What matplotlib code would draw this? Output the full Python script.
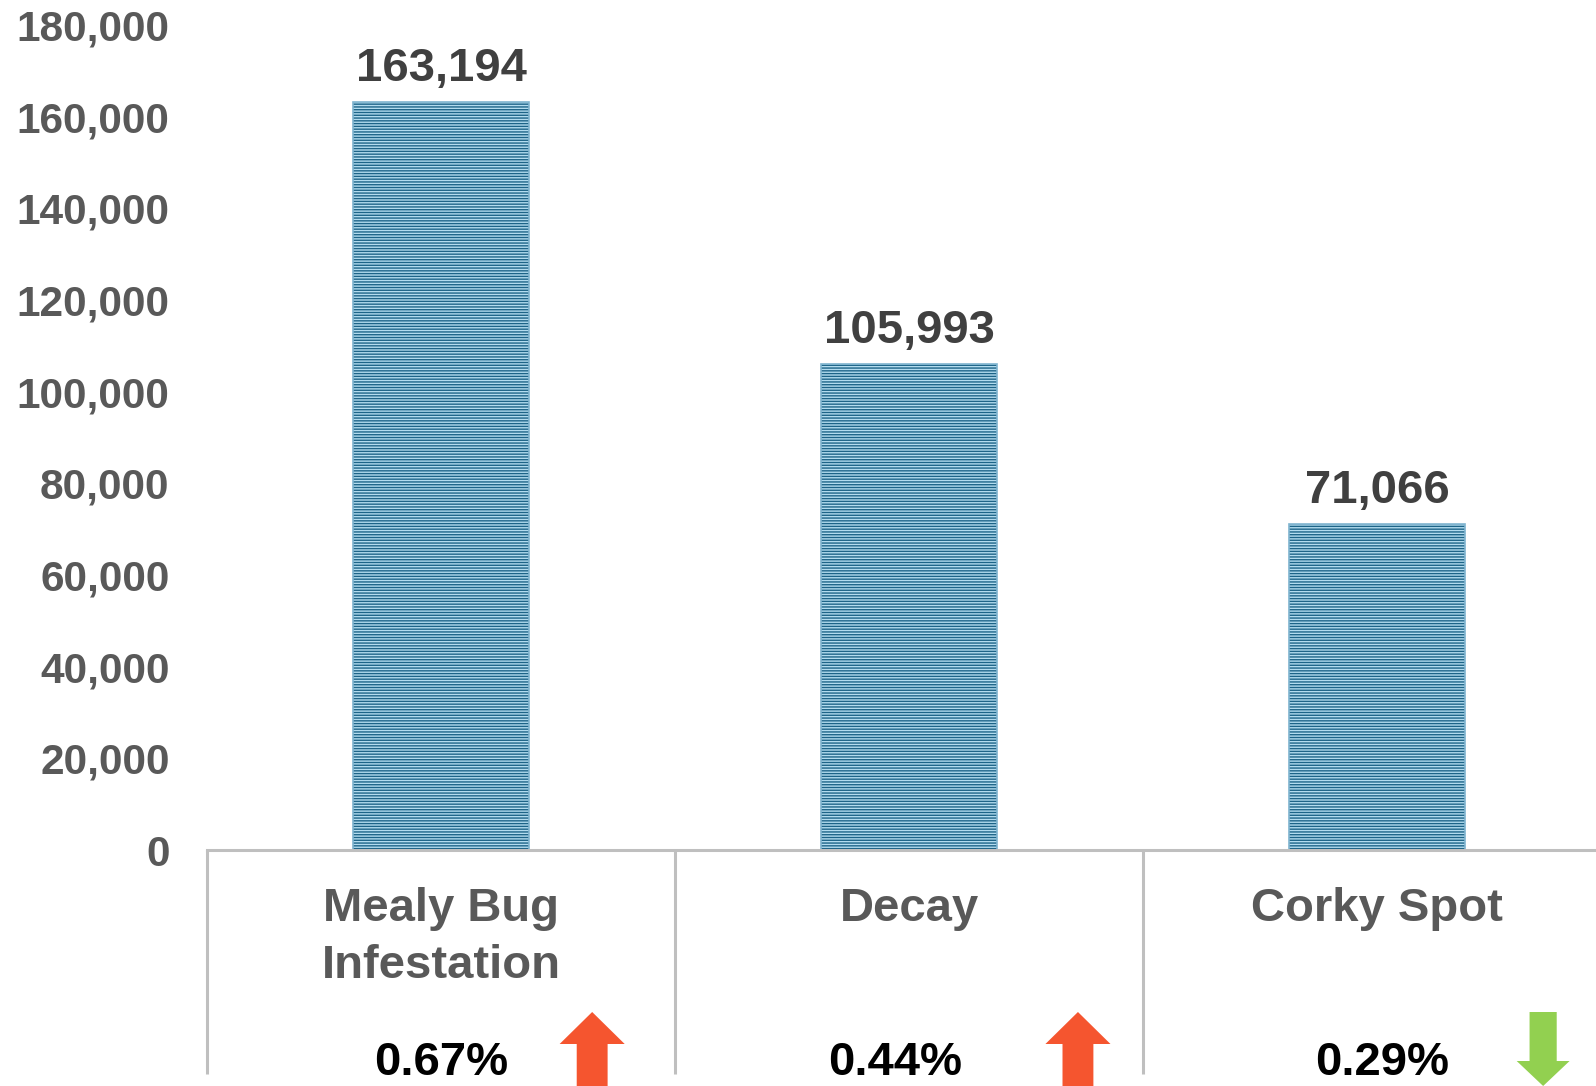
import matplotlib.pyplot as plt
import matplotlib.transforms as mtransforms
from matplotlib.patches import FancyArrow

plt.rcParams['font.family'] = ['Liberation Sans', 'DejaVu Sans']
plt.rcParams['hatch.linewidth'] = 1.0

categories = ['Mealy Bug\nInfestation', 'Decay', 'Corky Spot']
values = [163194, 105993, 71066]
pct_labels = ['0.67%', '0.44%', '0.29%']
trend = ['up', 'up', 'down']
yticks = [0, 20000, 40000, 60000, 80000, 100000, 120000, 140000, 160000, 180000]

fig = plt.figure(figsize=(15.96, 10.86), dpi=100)
ax = fig.add_axes([207/1596, 236/1086, 3*468/1596, 825/1086])

x = list(range(len(categories)))
ax.bar(x, values, width=0.376, color='#b3dcef', edgecolor='#1d6488',
       hatch='------', linewidth=0)
ax.bar(x, values, width=0.376, fill=False, edgecolor='#7fb4cf', linewidth=1.2)

ax.set_xlim(-0.5, 2.5)
ax.set_ylim(0, 180000)
ax.set_yticks(yticks)
ax.set_yticklabels([f'{v:,}' for v in yticks])
ax.tick_params(axis='y', length=0, pad=27, labelsize=30.5, labelcolor='#595959')
for lab in ax.get_yticklabels():
    lab.set_fontweight('bold')
ax.set_xticks([])
for s in ['top', 'right', 'left']:
    ax.spines[s].set_visible(False)
ax.spines['bottom'].set_color('#bfbfbf')
ax.spines['bottom'].set_linewidth(2.2)

for xi, v in zip(x, values):
    ax.annotate(f'{v:,}', (xi, v), xytext=(0, 8), textcoords='offset points',
                ha='center', va='bottom', fontsize=34, fontweight='bold',
                color='#404040')

tr = mtransforms.blended_transform_factory(ax.transData, fig.transFigure)

# category separators
for sx in [-0.5, 0.5, 1.5, 2.5]:
    ax.plot([sx, sx], [236/1086, 0.011], transform=tr, color='#bfbfbf',
            linewidth=2.2, clip_on=False, solid_capstyle='butt')

for xi, cat in zip(x, categories):
    ax.text(xi, 1 - 887/1086, cat, transform=tr, ha='center', va='top',
            fontsize=34, fontweight='bold', color='#595959', linespacing=1.38,
            clip_on=False)

pct_offsets = [0.0, -0.03, 0.01]
for xi, p, off in zip(x, pct_labels, pct_offsets):
    ax.text(xi + off, 1 - 1041/1086, p, transform=tr, ha='center', va='top',
            fontsize=34, fontweight='bold', color='black', clip_on=False)

arrow_x = [0.323, 1.361, 2.355]
for ax_x, t in zip(arrow_x, trend):
    if t == 'up':
        arr = FancyArrow(ax_x, -0.01, 0, 1.01 - 1012/1086,
                         width=0.066, head_width=0.139,
                         head_length=32/1086, length_includes_head=True,
                         transform=tr, color='#f5552f', linewidth=0,
                         clip_on=False)
    else:
        arr = FancyArrow(ax_x, 1 - 1012/1086, 0, -(1 - 1012/1086),
                         width=0.058, head_width=0.113,
                         head_length=25/1086, length_includes_head=True,
                         transform=tr, color='#92d050', linewidth=0,
                         clip_on=False)
    fig.add_artist(arr)

fig.savefig('out.png', dpi=100)
